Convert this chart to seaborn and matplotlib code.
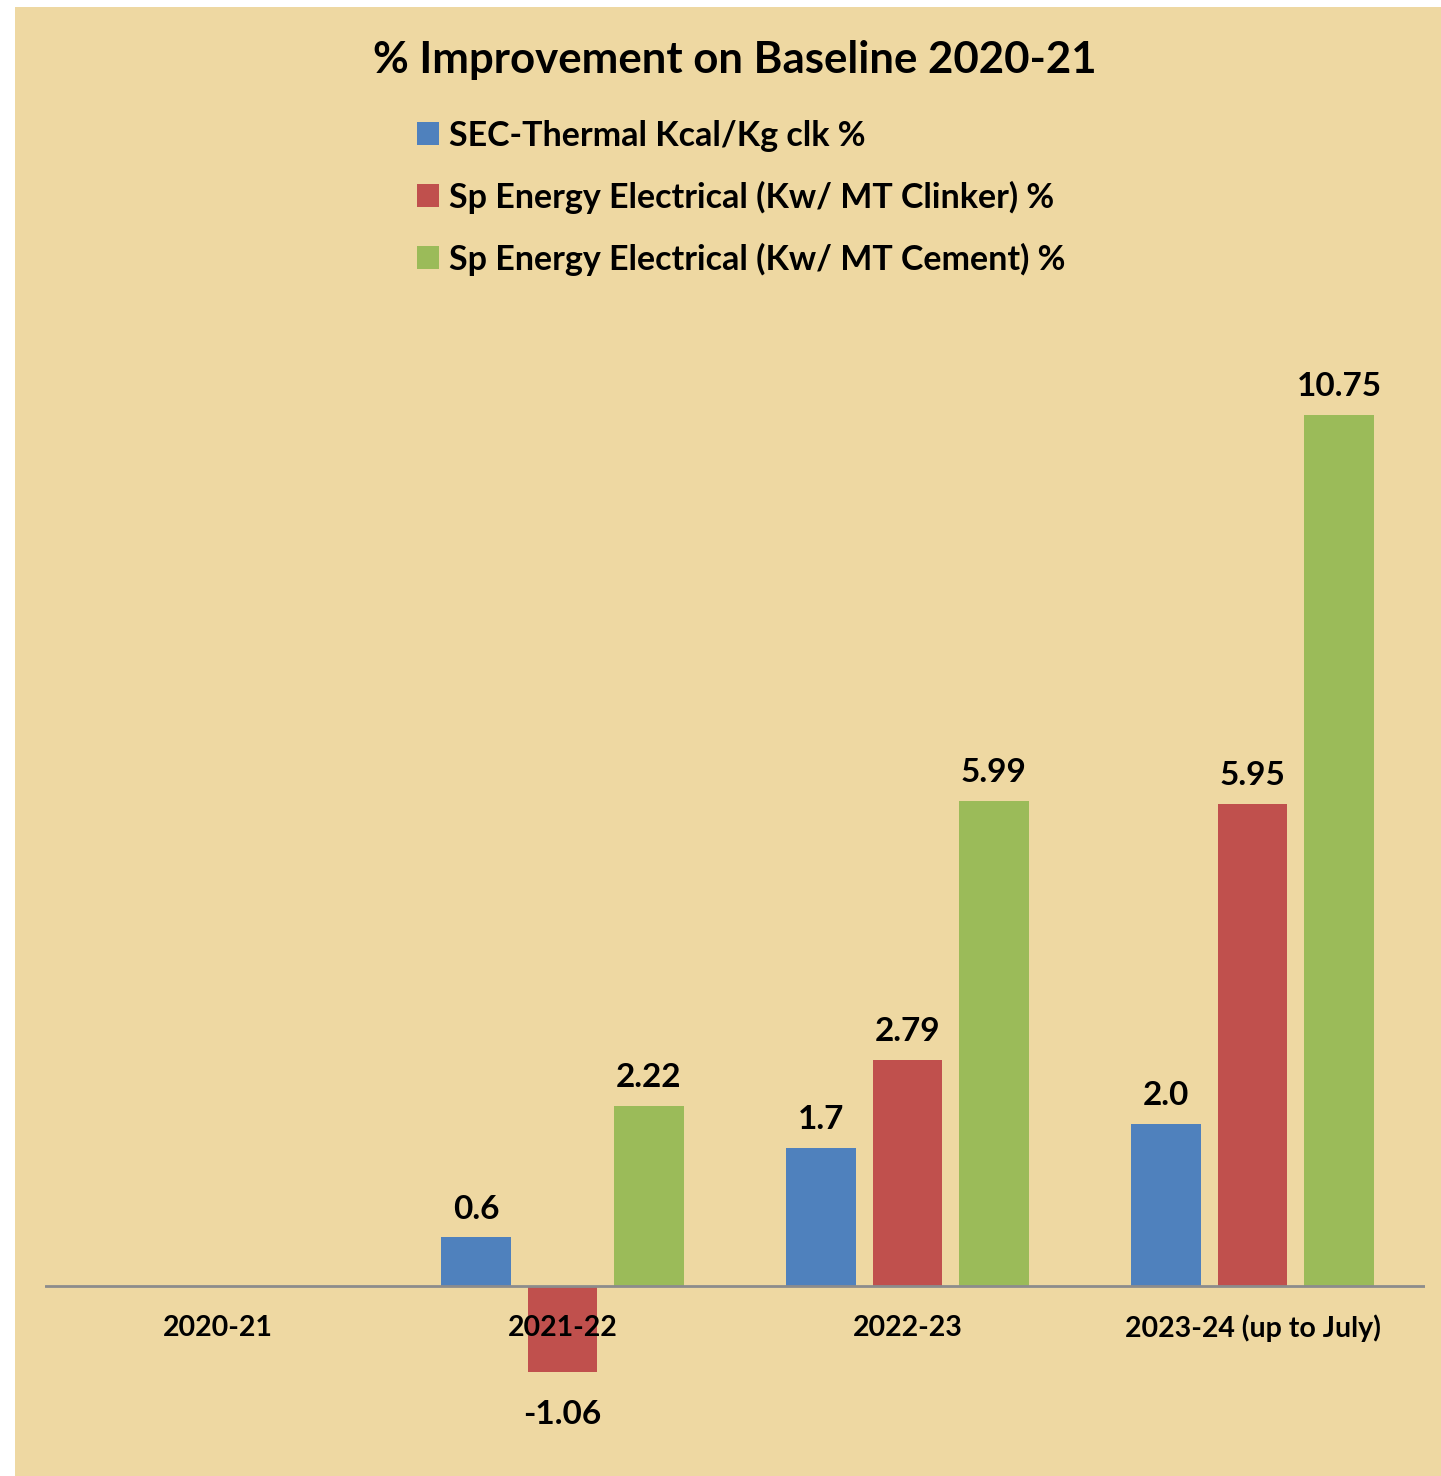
import numpy as np
import pandas as pd
import matplotlib
matplotlib.use("Agg")
import matplotlib.pyplot as plt
from matplotlib.patches import Rectangle
import seaborn as sns

# Financial years and the three improvement series (% over 2020-21 baseline)
years = ["2020-21", "2021-22", "2022-23", "2023-24 (up to July)"]
series = [
    "SEC-Thermal Kcal/Kg clk %",
    "Sp Energy Electrical (Kw/ MT Clinker) %",
    "Sp Energy Electrical (Kw/ MT Cement) %",
]
thermal = [0.0, 0.6, 1.7, 2.0]
elec_clinker = [0.0, -1.06, 2.79, 5.95]
elec_cement = [0.0, 2.22, 5.99, 10.75]
colors = ["#4F81BD", "#C0504D", "#9BBB59"]

df = pd.DataFrame({
    "year": years * 3,
    "series": [s for s in series for _ in years],
    "value": thermal + elec_clinker + elec_cement,
})

sns.set_theme(style="white")
plt.rcParams["font.family"] = ["Lato", "DejaVu Sans"]
plt.rcParams["font.weight"] = "bold"
plt.rcParams["text.color"] = "black"

W, H = 1441, 1476
fig = plt.figure(figsize=(W / 100, H / 100), dpi=100, facecolor="white")

# parchment backdrop behind the whole chart
fig.patches.append(Rectangle((15 / W, 0), 1 - 15 / W, 1 - 7 / H,
                             transform=fig.transFigure, facecolor="#EED8A2",
                             edgecolor="none", zorder=-10))

ymin, ymax = -2.0, 12.0
px_per_unit = 81.0
zero_px = 1286
top_px = zero_px - ymax * px_per_unit
bot_px = zero_px - ymin * px_per_unit
ax = fig.add_axes([45 / W, (H - bot_px) / H, 1380 / W, (bot_px - top_px) / H])
ax.set_facecolor("none")
ax.set_zorder(1)

sns.barplot(data=df, x="year", y="value", hue="series", order=years,
            hue_order=series, palette=colors, width=0.752, gap=0.2,
            saturation=1, linewidth=0, edgecolor="none", ax=ax, legend=True)

ax.set_xlim(-0.5, 3.5)
ax.set_ylim(ymin, ymax)
for s in ax.spines.values():
    s.set_visible(False)
ax.axhline(0, color="#8C8C8C", lw=2, zorder=1)
ax.set_yticks([])
ax.set_xlabel("")
ax.set_ylabel("")
ax.tick_params(axis="x", length=0)
ax.set_xticks(range(len(years)))
ax.set_xticklabels([])

# category labels sit just under the zero line
for i, y in enumerate(years):
    fig.text((45 + 345 * (i + 0.5)) / W, 1 - 1328 / H, y, ha="center",
             va="center", fontsize=20.5, fontweight="bold", color="black",
             zorder=5)

# value labels: positive above the bar, negative a little further below it
for cont, vals in zip(ax.containers, [thermal, elec_clinker, elec_cement]):
    pos = ["" if (i == 0 or v < 0) else str(v) for i, v in enumerate(vals)]
    neg = [str(v) if v < 0 else "" for v in vals]
    ax.bar_label(cont, labels=pos, padding=10, fontsize=24,
                 fontweight="bold", color="black")
    if any(neg):
        ax.bar_label(cont, labels=neg, padding=20, fontsize=24,
                     fontweight="bold", color="black")

handles, labs = ax.get_legend_handles_labels()
ax.get_legend().remove()
for h in handles:
    h.set_edgecolor("none")
fig.legend(handles, labs, loc="upper left",
           bbox_to_anchor=(386 / W, 1 - 89 / H), frameon=False,
           handlelength=0.65, handleheight=0.65, handletextpad=0.3,
           labelspacing=0.85, prop={"size": 24.5, "weight": "bold"})

fig.text(735 / W, 1 - 60 / H, "% Improvement on Baseline 2020-21",
         ha="center", va="center", fontsize=31.5, fontweight="bold", color="black")

fig.savefig("out.png", dpi=100, facecolor="white")
